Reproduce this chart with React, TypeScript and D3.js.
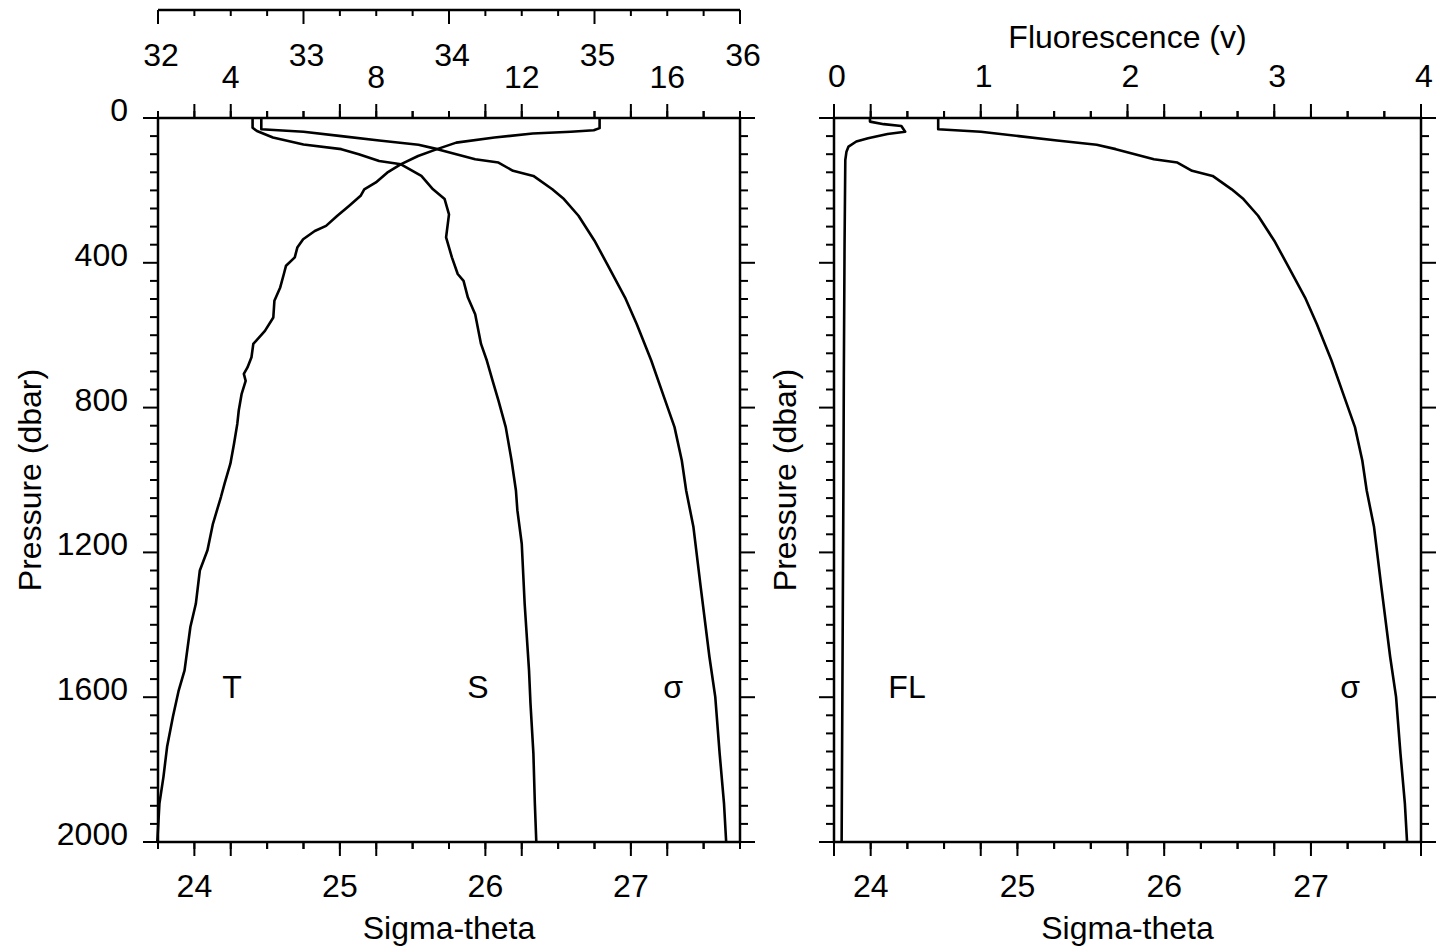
import React from "react";
import * as d3 from "d3";

// ---- data: [pressure (dbar), value] ----
const tempProfile: [number, number][] = [
  [0, 14.14], [28, 14.14], [34, 13.98], [38, 13.35], [43, 12.3], [54, 11.25], [68, 10.2],
  [86, 9.67], [105, 9.15], [128, 8.67], [151, 8.3], [178, 7.99], [197, 7.67], [215, 7.57],
  [243, 7.25], [270, 6.93], [298, 6.62], [312, 6.31], [335, 5.99], [358, 5.83], [385, 5.76],
  [408, 5.52], [431, 5.46], [468, 5.36], [505, 5.2], [551, 5.17], [588, 4.94], [624, 4.62],
  [661, 4.57], [689, 4.46], [707, 4.36], [726, 4.41], [762, 4.3], [808, 4.22], [845, 4.18],
  [900, 4.09], [955, 3.99], [1010, 3.83], [1047, 3.73], [1121, 3.51], [1194, 3.36],
  [1250, 3.15], [1342, 3.04], [1406, 2.89], [1526, 2.73], [1581, 2.57], [1654, 2.41],
  [1737, 2.25], [1820, 2.15], [1893, 2.04], [2000, 1.98],
];

const salinityProfile: [number, number][] = [
  [0, 32.65], [27, 32.65], [36, 32.68], [54, 32.79], [73, 33.0], [86, 33.26], [100, 33.38],
  [119, 33.52], [128, 33.67], [160, 33.81], [197, 33.89], [224, 33.97], [266, 34.0],
  [330, 33.98], [385, 34.02], [431, 34.06], [450, 34.1], [496, 34.13], [542, 34.18],
  [624, 34.22], [670, 34.26], [726, 34.3], [781, 34.34], [854, 34.39], [946, 34.43],
  [1029, 34.46], [1084, 34.47], [1176, 34.5], [1342, 34.52], [1526, 34.55], [1617, 34.56],
  [1755, 34.58], [1893, 34.59], [2000, 34.6],
];

const sigmaProfile: [number, number][] = [
  [0, 24.46], [31, 24.46], [38, 24.75], [50, 25.01], [62, 25.27], [74, 25.54], [86, 25.67],
  [100, 25.8], [114, 25.93], [123, 26.09], [146, 26.19], [160, 26.33], [197, 26.46],
  [224, 26.54], [270, 26.64], [339, 26.75], [413, 26.85], [496, 26.96], [569, 27.04],
  [670, 27.14], [762, 27.22], [854, 27.3], [946, 27.35], [1029, 27.38], [1130, 27.43],
  [1296, 27.48], [1489, 27.54], [1599, 27.58], [1755, 27.61], [1893, 27.64], [2000, 27.655],
];

const fluorProfile: [number, number][] = [
  [0, 0.245], [10, 0.245], [17, 0.339], [22, 0.459], [38, 0.485], [44, 0.365], [56, 0.232],
  [65, 0.152], [79, 0.099], [93, 0.085], [116, 0.077], [345, 0.072], [715, 0.067],
  [1028, 0.064], [2000, 0.052],
];

// ---- axis tick labels ----
const pressureLabels = [0, 400, 800, 1200, 1600, 2000];
const sigmaLabels = [24, 25, 26, 27];
const tempLabels = [4, 8, 12, 16];
const salinityLabels = [32, 33, 34, 35, 36];
const fluorLabels = [0, 1, 2, 3, 4];

const FONT = "'Liberation Sans', Arial, Helvetica, sans-serif";
const FS = 32;

type Scale = d3.ScaleLinear<number, number>;

function near(v: number, arr: number[]) {
  return arr.some((a) => Math.abs(a - v) < 1e-6);
}

export default function App() {
  const W = 1440;
  const H = 948;
  const y = d3.scaleLinear().domain([0, 2000]).range([118, 842]);

  const L = { x0: 158, x1: 740 };
  const R = { x0: 834, x1: 1421 };
  const sigL = d3.scaleLinear().domain([23.75, 27.75]).range([L.x0, L.x1]);
  const tempX = d3.scaleLinear().domain([2, 18]).range([L.x0, L.x1]);
  const salX = d3.scaleLinear().domain([32, 36]).range([L.x0, L.x1]);
  const sigR = d3.scaleLinear().domain([23.75, 27.75]).range([R.x0, R.x1]);
  const flX = d3.scaleLinear().domain([0, 4]).range([R.x0, R.x1]);

  const sigmaMinor = d3.range(23.75, 27.7501, 0.25);
  const tempMinor = d3.range(2, 18.001, 1);
  const salMinor = d3.range(32, 36.001, 0.25);
  const flMinor = d3.range(0, 4.001, 0.25);
  const pMinor = d3.range(0, 2000.001, 50);

  const line = (xs: Scale) =>
    d3
      .line<[number, number]>()
      .x((d) => xs(d[1]))
      .y((d) => y(d[0]));

  const stroke = "#000";

  // horizontal axis ticks on a line at yy; dir -1 up, +1 down
  const hTicks = (xs: Scale, vals: number[], majors: number[], yy: number, dir: number, key: string, maj = 14, min = 7) =>
    vals.map((v, i) => {
      const len = near(v, majors) ? maj : min;
      return (
        <line key={key + i} x1={xs(v)} x2={xs(v)} y1={yy} y2={yy + dir * len} stroke={stroke} strokeWidth={2} />
      );
    });

  const vTicks = (xx: number, dir: number, key: string) =>
    pMinor.map((v, i) => {
      const len = near(v, pressureLabels.filter((p) => p % 400 === 0)) ? 15 : 8;
      return <line key={key + i} x1={xx} x2={xx + dir * len} y1={y(v)} y2={y(v)} stroke={stroke} strokeWidth={2} />;
    });

  const frame = (x0: number, x1: number) => (
    <rect x={x0} y={y(0)} width={x1 - x0} height={y(2000) - y(0)} fill="none" stroke={stroke} strokeWidth={2.5} />
  );

  const textStyle = { fontFamily: FONT, fontSize: FS, fill: "#000" } as React.CSSProperties;

  return (
    <svg width={W} height={H} style={{ position: "absolute", left: 0, top: 0, background: "#fff" }}>
      <rect x={0} y={0} width={W} height={H} fill="#fff" />
      {/* ================= LEFT PANEL ================= */}
      {frame(L.x0, L.x1)}
      {/* top main line: sigma + temperature ticks pointing up */}
      {hTicks(sigL, sigmaMinor, sigmaLabels, y(0), -1, "lts")}
      {hTicks(tempX, tempMinor, tempLabels, y(0), -1, "ltt")}
      {/* bottom line: sigma + temperature ticks pointing down */}
      {hTicks(sigL, sigmaMinor, sigmaLabels, y(2000), 1, "lbs")}
      {hTicks(tempX, tempMinor, tempLabels, y(2000), 1, "lbt")}
      {/* salinity axis on top */}
      <line x1={salX(32)} x2={salX(36)} y1={10} y2={10} stroke={stroke} strokeWidth={2.5} />
      {hTicks(salX, salMinor, salinityLabels, 10, 1, "sal", 14, 6)}
      {vTicks(L.x0, -1, "lyl")}
      {vTicks(L.x1, 1, "lyr")}

      {salinityLabels.map((v) => (
        <text key={"sl" + v} x={salX(v) + 3} y={66} textAnchor="middle" style={textStyle}>{v}</text>
      ))}
      {tempLabels.map((v) => (
        <text key={"tl" + v} x={tempX(v)} y={88} textAnchor="middle" style={textStyle}>{v}</text>
      ))}
      {pressureLabels.map((v) => (
        <text key={"pl" + v} x={128} y={y(v) + 3} textAnchor="end" style={textStyle}>{v}</text>
      ))}
      {sigmaLabels.map((v) => (
        <text key={"bl" + v} x={sigL(v)} y={897} textAnchor="middle" style={textStyle}>{v}</text>
      ))}
      <text x={(L.x0 + L.x1) / 2} y={939} textAnchor="middle" style={textStyle}>Sigma-theta</text>
      <text transform={`translate(41,480) rotate(-90)`} textAnchor="middle" style={textStyle}>Pressure (dbar)</text>

      <path d={line(tempX)(tempProfile) || ""} fill="none" stroke={stroke} strokeWidth={2.6} strokeLinejoin="round" />
      <path d={line(salX)(salinityProfile) || ""} fill="none" stroke={stroke} strokeWidth={2.6} strokeLinejoin="round" />
      <path d={line(sigL)(sigmaProfile) || ""} fill="none" stroke={stroke} strokeWidth={2.6} strokeLinejoin="round" />

      <text x={232} y={698} textAnchor="middle" style={textStyle}>T</text>
      <text x={478} y={698} textAnchor="middle" style={textStyle}>S</text>
      <text x={673} y={698} textAnchor="middle" style={textStyle}>σ</text>

      {/* ================= RIGHT PANEL ================= */}
      {frame(R.x0, R.x1)}
      {hTicks(sigR, sigmaMinor, sigmaLabels, y(0), -1, "rts")}
      {hTicks(flX, flMinor, fluorLabels, y(0), -1, "rtf")}
      {hTicks(sigR, sigmaMinor, sigmaLabels, y(2000), 1, "rbs")}
      {hTicks(flX, flMinor, fluorLabels, y(2000), 1, "rbf")}
      {vTicks(R.x0, -1, "ryl")}
      {vTicks(R.x1, 1, "ryr")}

      {fluorLabels.map((v) => (
        <text key={"fl" + v} x={flX(v) + 3} y={87} textAnchor="middle" style={textStyle}>{v}</text>
      ))}
      <text x={(R.x0 + R.x1) / 2} y={48} textAnchor="middle" style={textStyle}>Fluorescence (v)</text>
      {sigmaLabels.map((v) => (
        <text key={"rbl" + v} x={sigR(v)} y={897} textAnchor="middle" style={textStyle}>{v}</text>
      ))}
      <text x={(R.x0 + R.x1) / 2} y={939} textAnchor="middle" style={textStyle}>Sigma-theta</text>
      <text transform={`translate(796,480) rotate(-90)`} textAnchor="middle" style={textStyle}>Pressure (dbar)</text>

      <path d={line(flX)(fluorProfile) || ""} fill="none" stroke={stroke} strokeWidth={2.6} strokeLinejoin="round" />
      <path d={line(sigR)(sigmaProfile) || ""} fill="none" stroke={stroke} strokeWidth={2.6} strokeLinejoin="round" />

      <text x={907} y={698} textAnchor="middle" style={textStyle}>FL</text>
      <text x={1350} y={698} textAnchor="middle" style={textStyle}>σ</text>
    </svg>
  );
}
